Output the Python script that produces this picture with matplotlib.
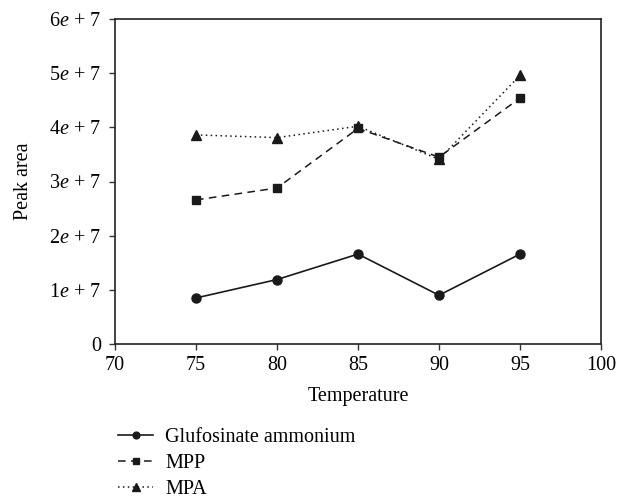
import matplotlib
matplotlib.use('Agg')
import matplotlib.pyplot as plt

plt.rcParams['font.family'] = 'Liberation Serif'
plt.rcParams['mathtext.fontset'] = 'custom'
plt.rcParams['mathtext.rm'] = 'Liberation Serif'
plt.rcParams['mathtext.it'] = 'Liberation Serif:italic'

temps = [75, 80, 85, 90, 95]
glufosinate = [0.85e7, 1.19e7, 1.66e7, 0.90e7, 1.66e7]
mpp = [2.66e7, 2.88e7, 3.98e7, 3.45e7, 4.54e7]
mpa = [3.86e7, 3.81e7, 4.02e7, 3.41e7, 4.96e7]

ytick_vals = [0, 1e7, 2e7, 3e7, 4e7, 5e7, 6e7]
ytick_labels = ['0'] + ['%d$\\it{e}$ + 7' % i for i in range(1, 7)]
xtick_vals = [70, 75, 80, 85, 90, 95, 100]

fs = 14.5

fig = plt.figure(figsize=(6.19, 5.04), dpi=100)
ax = fig.add_axes([115 / 619, 1 - 344 / 504, (601 - 115) / 619, (344 - 19) / 504])

ax.plot(temps, glufosinate, color='#1a1a1a', linestyle='-', linewidth=1.2,
        marker='o', markersize=6.5, label='Glufosinate ammonium')
ax.plot(temps, mpp, color='#1a1a1a', linestyle=(0, (5, 3.5)), linewidth=1.1,
        marker='s', markersize=6.3, label='MPP')
ax.plot(temps, mpa, color='#1a1a1a', linestyle=(0, (1, 2.2)), linewidth=1.1,
        marker='^', markersize=6.8, label='MPA')

ax.set_xlim(70, 100)
ax.set_ylim(0, 6e7)
ax.set_xticks(xtick_vals)
ax.set_yticks(ytick_vals)
ax.set_yticklabels(ytick_labels)
ax.tick_params(labelsize=fs, length=4, width=1, direction='out', color='#333333')
ax.tick_params(axis='x', pad=5)
ax.tick_params(axis='y', pad=6)
for s in ax.spines.values():
    s.set_linewidth(1.2)
    s.set_color('#222222')

ax.set_xlabel('Temperature', fontsize=fs, labelpad=8)
ax.set_ylabel('Peak area', fontsize=fs, labelpad=12)

fig.legend(loc='upper left', bbox_to_anchor=(100 / 619, 1 - 410 / 504),
           frameon=False, fontsize=fs, handlelength=1.75, handletextpad=0.6,
           labelspacing=0.33, markerscale=0.75)

fig.savefig('out.png', dpi=100)
